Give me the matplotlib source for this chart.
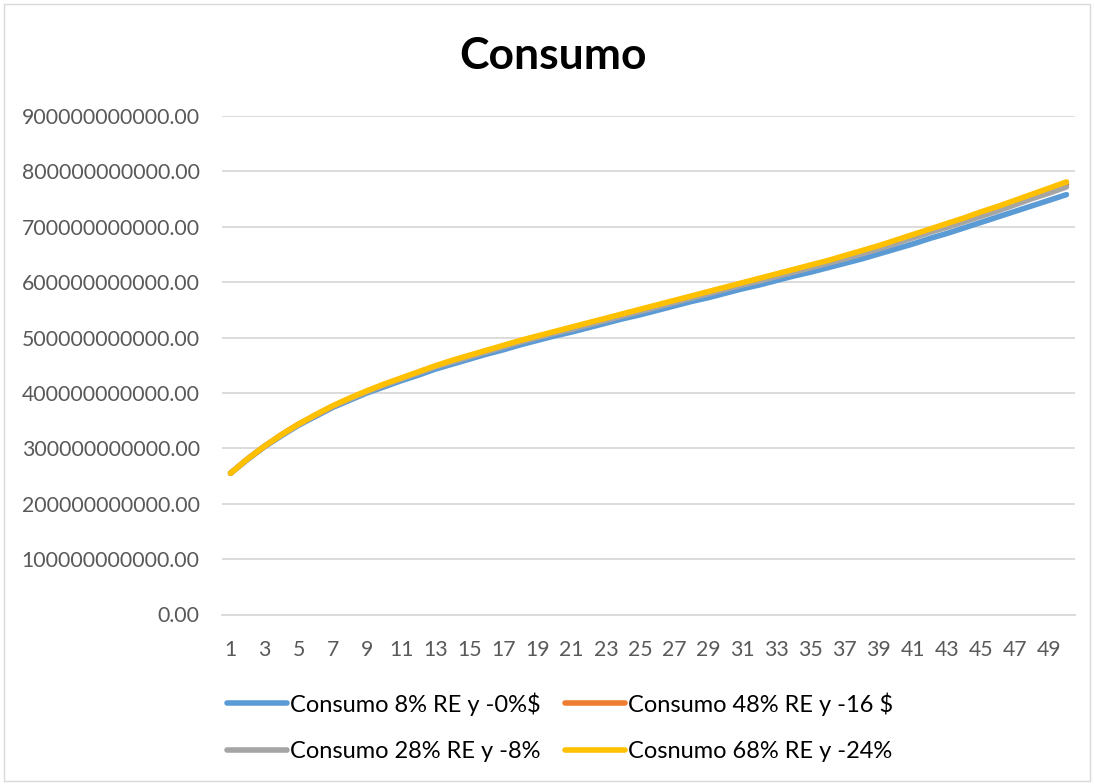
import matplotlib
matplotlib.use("Agg")
import matplotlib.pyplot as plt
from matplotlib.ticker import FuncFormatter, FixedLocator
from matplotlib.patches import Rectangle

plt.rcParams['font.family'] = ['Lato', 'DejaVu Sans']

periods = list(range(1, 51))

# values in billions
blue_vals = [255, 280, 303, 323, 342, 358, 374, 387, 400, 411,
             422, 432, 443, 452, 461, 470, 478, 487, 495, 503,
             510, 518, 526, 534, 541, 549, 557, 565, 572, 580,
             588, 595, 603, 611, 618, 626, 634, 642, 651, 660,
             669, 679, 688, 698, 708, 718, 728, 738, 748, 758]
orange_vals = [255, 281, 304, 325, 344, 360, 376, 390, 403, 415,
               426, 437, 448, 458, 467, 476, 484, 493, 501, 509,
               517, 525, 533, 541, 549, 557, 565, 573, 581, 589,
               597, 605, 613, 621, 628, 636, 645, 654, 663, 673,
               683, 693, 703, 713, 723, 733, 744, 755, 766, 777]
gray_vals = [255, 281, 304, 324, 343, 360, 376, 389, 402, 414,
             425, 436, 447, 456, 465, 474, 483, 492, 500, 508,
             515, 523, 531, 539, 547, 555, 563, 571, 579, 587,
             595, 602, 610, 618, 626, 634, 642, 651, 660, 670,
             680, 690, 699, 709, 719, 729, 740, 751, 761, 772]
yellow_vals = [255, 281, 304, 325, 344, 361, 377, 391, 404, 416,
               427, 438, 449, 459, 468, 477, 486, 495, 503, 511,
               519, 527, 535, 543, 551, 559, 567, 575, 583, 591,
               599, 607, 615, 623, 631, 639, 648, 657, 666, 676,
               686, 696, 706, 716, 727, 737, 748, 759, 770, 781]

labels = ["Consumo 8% RE y -0%$", "Consumo 48% RE y -16 $",
          "Consumo 28% RE y -8%", "Cosnumo 68% RE y -24%"]
colors = ["#5B9BD5", "#ED7D31", "#A5A5A5", "#FFC000"]
series = [blue_vals, orange_vals, gray_vals, yellow_vals]

x_ticks = list(range(1, 50, 2))
y_ticks = [i * 100e9 for i in range(10)]

fig = plt.figure(figsize=(10.94, 7.84), dpi=100)
fig.patch.set_facecolor("white")
fig.patches.append(Rectangle((4 / 1094, 3 / 784), 1086 / 1094, 777 / 784,
                             transform=fig.transFigure, fill=False,
                             edgecolor="#D9D9D9", linewidth=1.0))

ax = fig.add_axes([222 / 1094, 1 - 614.5 / 784, (1075 - 222) / 1094, (614.5 - 116) / 784])

handles = []
for vals, c, lab in zip(series, colors, labels):
    h, = ax.plot(periods, [v * 1e9 for v in vals], color=c, linewidth=4.0,
                 solid_capstyle="round", solid_joinstyle="round", label=lab)
    handles.append(h)

ax.set_xlim(0.5, 50.5)
ax.set_ylim(0, 900e9)
ax.yaxis.set_major_locator(FixedLocator(y_ticks))
ax.xaxis.set_major_locator(FixedLocator(x_ticks))
ax.yaxis.set_major_formatter(FuncFormatter(lambda v, p: f"{v:.2f}"))
ax.grid(axis="y", color="#D9D9D9", linewidth=1.3)
ax.set_axisbelow(True)
for s in ["top", "right", "left"]:
    ax.spines[s].set_visible(False)
ax.spines["bottom"].set_color("#D9D9D9")
ax.spines["bottom"].set_linewidth(1.3)
ax.tick_params(axis="both", length=0, labelsize=15.3, labelcolor="#595959")
ax.tick_params(axis="y", pad=16)
ax.tick_params(axis="x", pad=18)

fig.text(553 / 1094, 1 - 56 / 784, "Consumo", ha="center", va="center",
         fontsize=32, fontweight="bold", color="black")

order = [0, 2, 1, 3]
leg = fig.legend([handles[i] for i in order], [labels[i] for i in order],
                 ncol=2, loc="center left", bbox_to_anchor=(227 / 1094, 1 - 727 / 784),
                 frameon=False, fontsize=17, handlelength=2.55, handletextpad=0.1,
                 columnspacing=1.05, labelspacing=1.07, borderpad=0, borderaxespad=0)
for t in leg.get_texts():
    t.set_color("black")

fig.savefig("out.png", dpi=100, facecolor="white")
